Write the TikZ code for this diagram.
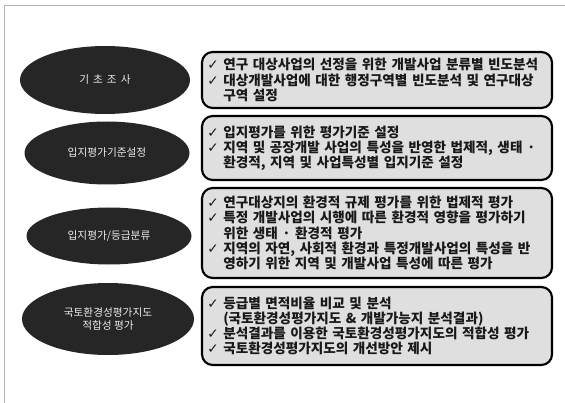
\documentclass[tikz,border=0pt]{standalone}
\usepackage{fontspec}
\usetikzlibrary{shapes.geometric}
\setmainfont{Noto Sans CJK KR}
\newfontfamily\kr{Noto Sans CJK KR}
\newfontfamily\djv{DejaVu Sans}
\newcommand\chk{{\djv\char"2713}}
\newcommand\ind{\hphantom{\chk\ }}
\begin{document}
\begin{tikzpicture}[x=0.75pt,y=-0.75pt,
  oval/.style={ellipse, fill=black!85, draw=none, text=gray!15, font=\kr\fontsize{8}{10}\selectfont, align=center, inner sep=0pt},
  box/.style={draw=black, line width=1.6pt, rounded corners=8pt, fill=gray!25, minimum width=262.5pt, text width=254.5pt, inner xsep=4pt, align=left, font=\kr\bfseries\fontsize{10.2}{11.4}\selectfont, text=black!90},
  frame/.style={draw=gray!60, line width=0.6pt}]
\useasboundingbox (0,0) rectangle (565,403);
\coordinate (tl) at (4,5);
\coordinate (tr) at (565,5);
\coordinate (bl) at (4,403);
\draw[frame] (bl) -- (tl) -- (tr);
% ellipses
\node[oval, minimum width=127.5pt, minimum height=51pt] (e1) at (105,80) {기\hspace{3pt}초\hspace{3pt}조\hspace{3pt}사};
\node[oval, minimum width=123.75pt, minimum height=47.25pt] (e2) at (107,153) {입지평가기준설정};
\node[oval, minimum width=123.75pt, minimum height=42.75pt] (e3) at (109,236) {입지평가/등급분류};
\node[oval, minimum width=129pt, minimum height=54pt] (e4) at (108,319) {국토환경성평가지도\\적합성 평가};
% boxes
\node[box, minimum height=42pt] (b1) at (377,80) {\chk\ 연구 대상사업의 선정을 위한 개발사업 분류별 빈도분석\\\chk\ 대상개발사업에 대한 행정구역별 빈도분석 및 연구대상\\\ind 구역 설정};
\node[box, minimum height=48pt] (b2) at (377,148) {\chk\ 입지평가를 위한 평가기준 설정\\\chk\ 지역 및 공장개발 사업의 특성을 반영한 법제적, 생태 ·\\\ind 환경적, 지역 및 사업특성별 입지기준 설정};
\node[box, minimum height=67.5pt] (b3) at (377,233) {\chk\ 연구대상지의 환경적 규제 평가를 위한 법제적 평가\\\chk\ 특정 개발사업의 시행에 따른 환경적 영향을 평가하기\\\ind 위한 생태 · 환경적 평가\\\chk\ 지역의 자연, 사회적 환경과 특정개발사업의 특성을 반\\\ind 영하기 위한 지역 및 개발사업 특성에 따른 평가};
\node[box, minimum height=58.5pt] (b4) at (377,326) {\chk\ 등급별 면적비율 비교 및 분석\\\ind (국토환경성평가지도 \& 개발가능지 분석결과)\\\chk\ 분석결과를 이용한 국토환경성평가지도의 적합성 평가\\\chk\ 국토환경성평가지도의 개선방안 제시};
\end{tikzpicture}
\end{document}
